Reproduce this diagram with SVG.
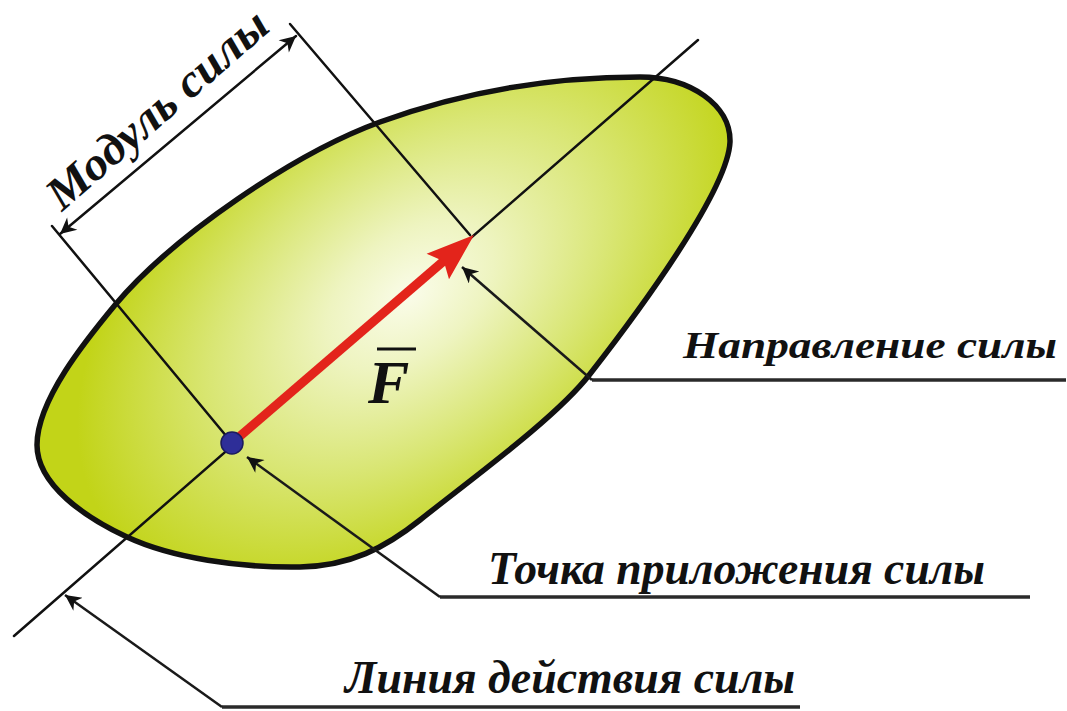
<svg xmlns="http://www.w3.org/2000/svg" width="1067" height="711" viewBox="0 0 1067 711">
<style>
.thin{stroke:#111;stroke-width:2.5;fill:none;stroke-linecap:round}
.lead{stroke:#1a1a1a;stroke-width:2.5;fill:none}
.under{stroke:#2a2a2a;stroke-width:3.5;fill:none}
text{font-family:'Liberation Serif',serif;font-style:italic;font-weight:700;fill:#111}
</style>
<defs>
<radialGradient id="g" gradientUnits="userSpaceOnUse" cx="410" cy="295" r="380" gradientTransform="translate(410 295) rotate(-38) scale(1 0.62) translate(-410 -295)">
<stop offset="0" stop-color="#fafce9"/>
<stop offset="0.25" stop-color="#eef4c0"/>
<stop offset="0.6" stop-color="#d9e674"/>
<stop offset="1" stop-color="#c2d418"/>
</radialGradient>
<marker id="ah" viewBox="0 0 10 10" refX="10" refY="5" markerWidth="26" markerHeight="16" markerUnits="userSpaceOnUse" orient="auto-start-reverse">
<path d="M0,0 L10,5 L0,10 L3,5 z" fill="#111"/>
</marker>
</defs>
<g id="body">
<path d="M640,77 C690,77 731,105 730,142 C728,190 640,310 590,374 C556,418 470,480 420,520 C385,548 350,566 300,567 C240,568 172,558 127,537 C86,518 37,485 37,445 C37,400 86,340 115,305 C173,236 295,153 380,122 C465,91 550,77 640,77 Z" fill="url(#g)" stroke="#111" stroke-width="5.5"/>
</g>
<g id="connectors">
<line id="line-of-action" class="thin" x1="14" y1="636" x2="698" y2="40"/>
<line id="ext1" class="thin" x1="52" y1="226" x2="232" y2="443"/>
<line id="ext2" class="thin" x1="290" y1="24" x2="470" y2="235"/>
<line id="dim" class="thin" x1="60" y1="234" x2="296" y2="36" marker-start="url(#ah)" marker-end="url(#ah)"/>
<polyline class="under" points="1066,380 592,380"/>
<line class="lead" x1="592" y1="380" x2="462" y2="267" marker-end="url(#ah)"/>
<polyline class="under" points="1030,597 440,597"/>
<line class="lead" x1="440" y1="597" x2="247" y2="457" marker-end="url(#ah)"/>
<polyline class="under" points="800,707 222,707"/>
<line class="lead" x1="222" y1="707" x2="65" y2="595" marker-end="url(#ah)"/>
</g>
<g id="force">
<line x1="232" y1="443" x2="446" y2="259" stroke="#e3241b" stroke-width="9"/>
<path d="M474,235 L426.6,253.7 L443.8,261.3 L449,279.3 Z" fill="#e3241b"/>
</g>
<g id="point">
<circle cx="232" cy="443" r="11" fill="#2e2e98" stroke="#1b1b5e" stroke-width="1.5"/>
</g>
<g id="label-F">
<text x="368" y="403" font-size="62">F</text>
<line x1="377" y1="349" x2="416" y2="349" stroke="#111" stroke-width="3"/>
</g>
<g id="label-modul">
<text font-size="46" transform="translate(62 212) rotate(-41)" textLength="278" lengthAdjust="spacingAndGlyphs">Модуль силы</text>
</g>
<g id="label-napr">
<text x="683" y="358" font-size="38" textLength="374" lengthAdjust="spacingAndGlyphs">Направление силы</text>
</g>
<g id="label-tochka">
<text x="488" y="584" font-size="46" textLength="497" lengthAdjust="spacingAndGlyphs">Точка приложения силы</text>
</g>
<g id="label-liniya">
<text x="345" y="693" font-size="46" textLength="450" lengthAdjust="spacingAndGlyphs">Линия действия силы</text>
</g>
</svg>
